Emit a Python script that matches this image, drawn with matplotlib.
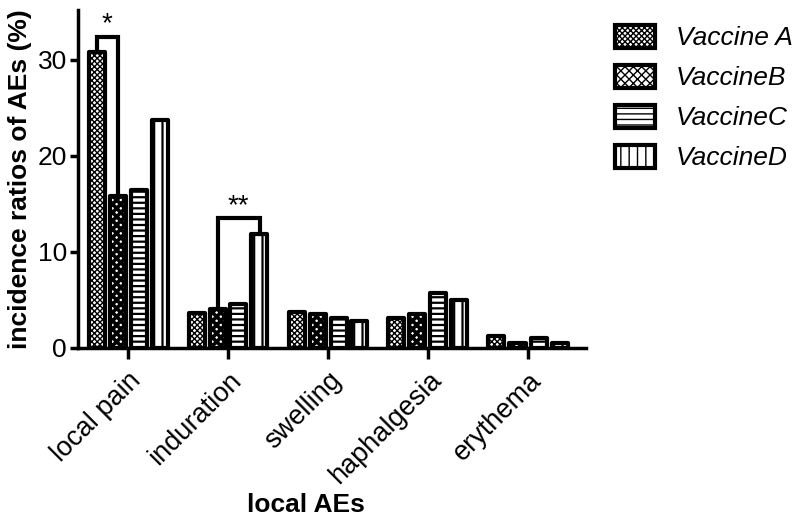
import matplotlib
matplotlib.use("Agg")
import matplotlib.pyplot as plt
import numpy as np

plt.rcParams['font.family'] = ['Liberation Sans', 'DejaVu Sans']

categories = ["local pain", "induration", "swelling", "haphalgesia", "erythema"]
series_names = ["Vaccine A", "VaccineB", "VaccineC", "VaccineD"]
vaccine_a = [30.8, 3.6, 3.7, 3.1, 1.2]
vaccine_b = [15.8, 4.0, 3.5, 3.5, 0.5]
vaccine_c = [16.4, 4.6, 3.1, 5.7, 1.0]
vaccine_d = [23.7, 11.9, 2.8, 5.0, 0.5]
yticks = [0, 10, 20, 30]
hatches = ["xxxxxx", "xxxx", "---", "||"]
hatch_lws = [1.0, 2.6, 1.6, 1.6]

series = [vaccine_a, vaccine_b, vaccine_c, vaccine_d]

fig = plt.figure(figsize=(8, 5.2), dpi=100)
ax = fig.add_axes([0.0975, 0.331, 0.635, 0.65])

x = np.arange(len(categories))
pitch = 0.21
width = 0.16
offsets = [(i - 1.5) * pitch for i in range(4)]
handles = []
for i, vals in enumerate(series):
    with plt.rc_context({'hatch.linewidth': hatch_lws[i]}):
        b = ax.bar(x + offsets[i], vals, width, facecolor="white", edgecolor="black",
                   hatch=hatches[i], linewidth=3, joinstyle="round", label=series_names[i])
    handles.append(b)

# significance brackets
def bracket(gi, i1, i2, h, txt):
    x1 = gi + offsets[i1]
    x2 = gi + offsets[i2]
    y1 = series[i1][gi]
    y2 = series[i2][gi]
    ax.plot([x1, x1, x2, x2], [y1, h, h, y2], color="black", lw=3,
            solid_joinstyle="miter", zorder=5)
    ax.text((x1 + x2) / 2, h + 1.3, txt, ha="center", va="center", fontsize=20)

bracket(0, 0, 1, 32.4, "*")
bracket(1, 1, 3, 13.5, "**")

ax.set_xlim(-0.5, 4.58)
ax.set_ylim(0, 35.2)
ax.set_yticks(yticks)
ax.set_xticks(x)
ax.set_xticklabels(categories, rotation=45, ha="right", rotation_mode="anchor", fontsize=19.5)
ax.tick_params(axis="y", labelsize=19, width=2.5, length=6, direction="out", pad=2)
ax.tick_params(axis="x", width=2.5, length=8, direction="out", pad=6)
for s in ["top", "right"]:
    ax.spines[s].set_visible(False)
for s in ["left", "bottom"]:
    ax.spines[s].set_linewidth(2.5)

ax.set_ylabel("incidence ratios of AEs (%)", fontsize=19, fontweight="bold", labelpad=4)
ax.set_xlabel("local AEs", fontsize=19, fontweight="bold")
ax.xaxis.set_label_coords(0.449, -0.43)

fig.legend(handles=handles, labels=series_names, loc="upper left",
           bbox_to_anchor=(0.7625, 0.962), frameon=False,
           prop={"style": "italic", "size": 19}, handlelength=1.5, handleheight=0.95,
           labelspacing=0.55, handletextpad=0.8, borderaxespad=0, borderpad=0.2)

fig.savefig("out.png", dpi=100)
